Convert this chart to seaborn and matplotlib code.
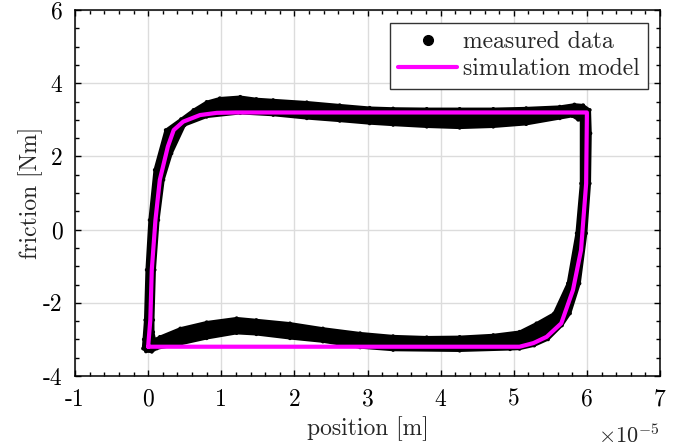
import numpy as np
import matplotlib
matplotlib.use("Agg")
import matplotlib.pyplot as plt
from matplotlib.lines import Line2D
from matplotlib.path import Path
from matplotlib.patches import PathPatch
from matplotlib.ticker import MultipleLocator
import seaborn as sns

# ------------------------------------------------------------
# data (x in units of 1e-5 m, y in Nm)
# ------------------------------------------------------------
# measured data: outer edge of the band of recorded cycles (clockwise)
meas_outer_x = [-0.06, -0.04, -0.02, 0.02, 0.09, 0.24, 0.45, 0.62, 0.80, 0.98, 1.26, 1.48,
                1.71, 2.17, 2.62, 3.03, 3.35, 3.81, 4.26, 4.72, 5.17, 5.63, 5.83, 5.95,
                6.04, 6.05, 6.04, 5.99, 5.90, 5.77, 5.66, 5.47, 5.28, 5.08, 4.95, 4.26,
                3.35, 2.90, 2.39, 1.94, 1.48, 1.21, 0.80, 0.44, 0.12, 0.05, -0.03, -0.07]
meas_outer_y = [-3.00, -2.47, -1.10, 0.26, 1.63, 2.72, 3.02, 3.27, 3.49, 3.59, 3.63, 3.57,
                3.54, 3.48, 3.40, 3.33, 3.31, 3.30, 3.30, 3.30, 3.32, 3.36, 3.42, 3.40,
                3.27, 2.63, 1.26, -0.10, -1.47, -2.29, -2.62, -3.00, -3.17, -3.26, -3.27, -3.31,
                -3.29, -3.22, -3.06, -2.97, -2.86, -2.83, -2.97, -3.13, -3.25, -3.34, -3.33, -3.25]

# measured data: inner edge of the band (clockwise)
meas_inner_x = [0.07, 0.07, 0.09, 0.14, 0.21, 0.32, 0.50, 0.80, 1.26, 1.71, 2.17, 2.62,
                3.03, 3.35, 3.81, 4.26, 4.72, 5.17, 5.63, 5.80, 5.88, 5.92, 5.92, 5.86,
                5.74, 5.55, 5.31, 5.08, 4.72, 4.26, 3.81, 3.35, 2.90, 2.39, 1.94, 1.48,
                1.21, 0.80, 0.44, 0.16, 0.09]
meas_inner_y = [-2.80, -2.47, -1.10, 0.26, 1.36, 2.08, 2.85, 3.08, 3.18, 3.13, 3.04, 2.97,
                2.90, 2.86, 2.81, 2.78, 2.81, 2.88, 3.04, 3.10, 3.00, 2.99, 1.26, -0.10,
                -1.47, -2.29, -2.56, -2.79, -2.88, -2.93, -2.94, -2.91, -2.83, -2.70, -2.56, -2.47,
                -2.42, -2.53, -2.70, -2.93, -3.00]

# simulation model loop
model_x = [0.00, 0.03, 0.05, 0.10, 0.16, 0.27, 0.35, 0.48, 0.71, 0.94, 1.20, 6.00,
           6.00, 5.99, 5.92, 5.81, 5.65, 5.45, 5.27, 5.08, 0.00, 0.00]
model_y = [-3.20, -2.47, -1.10, 0.26, 1.36, 2.27, 2.72, 2.95, 3.13, 3.19, 3.20, 3.20,
           3.10, 1.26, -0.56, -1.65, -2.56, -2.93, -3.10, -3.20, -3.20, -3.20]

x_ticks = [-1, 0, 1, 2, 3, 4, 5, 6, 7]
y_ticks = [-4, -2, 0, 2, 4, 6]

# ------------------------------------------------------------
# style
# ------------------------------------------------------------
sns.set_theme(style="ticks")
plt.rcParams["font.family"] = ["cmr10", "DejaVu Serif"]
plt.rcParams["mathtext.fontset"] = "cm"
plt.rcParams["axes.unicode_minus"] = False
plt.rcParams["axes.formatter.use_mathtext"] = False
FS = 17
MAGENTA = "#ff00ff"

fig = plt.figure(figsize=(6.86, 4.47), dpi=100)
ax = fig.add_axes([75 / 686, 1 - 376 / 447, 585 / 686, 366 / 447])

# measured data: band between outer and inner edge (inner reversed -> hole)
outer = np.column_stack([meas_outer_x + meas_outer_x[:1], meas_outer_y + meas_outer_y[:1]])
inner = np.column_stack([meas_inner_x + meas_inner_x[:1], meas_inner_y + meas_inner_y[:1]])[::-1]
verts = np.vstack([outer, inner])
codes = ([Path.MOVETO] + [Path.LINETO] * (len(outer) - 1)
         + [Path.MOVETO] + [Path.LINETO] * (len(inner) - 1))
band = PathPatch(Path(verts, codes), facecolor="black", edgecolor="black",
                 linewidth=1.8, joinstyle="round", zorder=2)
ax.add_patch(band)
for bx, by in [(meas_outer_x, meas_outer_y), (meas_inner_x, meas_inner_y)]:
    sns.scatterplot(x=bx, y=by, color="black", s=7, edgecolor="none", ax=ax, zorder=2)

# simulation model
sns.lineplot(x=model_x, y=model_y, sort=False, estimator=None, ax=ax,
             color=MAGENTA, linewidth=3.0, solid_joinstyle="round", zorder=3)

# axes
ax.set_xlim(x_ticks[0], x_ticks[-1])
ax.set_ylim(y_ticks[0], y_ticks[-1])
ax.set_xticks(x_ticks)
ax.set_yticks(y_ticks)
ax.set_xticklabels([str(t) for t in x_ticks])
ax.set_yticklabels([str(t) for t in y_ticks])
ax.xaxis.set_minor_locator(MultipleLocator(0.2))
ax.yaxis.set_minor_locator(MultipleLocator(0.5))
ax.tick_params(which="both", direction="in", top=True, right=True, colors="black",
               labelsize=FS, width=1.0)
ax.tick_params(which="major", length=4.5, pad=9)
ax.tick_params(which="minor", length=2.8)
ax.grid(True, which="major", color="#dcdcdc", linewidth=1.0, zorder=0)
ax.set_axisbelow(True)
for s in ax.spines.values():
    s.set_color("black")
    s.set_linewidth(1.1)

ax.set_xlabel("position [m]", fontsize=FS, labelpad=4)
ax.set_ylabel("friction [Nm]", fontsize=FS, labelpad=0)
ax.text(1.0, -0.13, r"$\times10^{-5}$", transform=ax.transAxes, ha="right",
        va="top", fontsize=FS - 1)

handles = [Line2D([], [], marker="o", color="black", linestyle="none", markersize=7),
           Line2D([], [], color=MAGENTA, linewidth=3.0)]
leg = ax.legend(handles, ["measured data", "simulation model"], loc="upper right",
                bbox_to_anchor=(648 / 686, 1 - 23 / 447), bbox_transform=fig.transFigure,
                borderaxespad=0, fontsize=FS, frameon=True, fancybox=False,
                framealpha=1, edgecolor="#333333", handlelength=2.5, handletextpad=0.25,
                borderpad=0.35, labelspacing=0.2)
leg.get_frame().set_linewidth(1.0)

fig.savefig("out.png", dpi=100)
